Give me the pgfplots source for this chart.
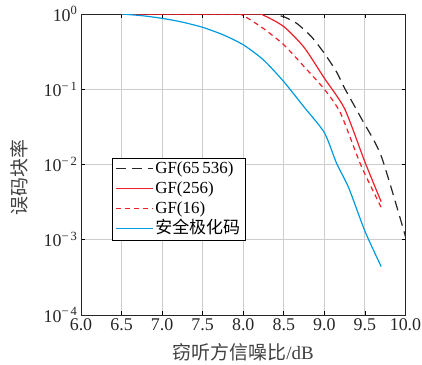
\documentclass[border=0pt]{standalone}
\usepackage{fontspec}
\setmainfont{Liberation Serif}
\newfontfamily\cjk{Noto Sans CJK SC}
\usepackage{pgfplots}
\pgfplotsset{compat=1.18}
\definecolor{myblue}{RGB}{0,155,222}
\definecolor{myred}{RGB}{240,30,40}
\definecolor{mygrid}{RGB}{205,205,205}
\begin{document}
\begin{tikzpicture}
\begin{axis}[
  scale only axis,
  width=324.5bp, height=301bp,
  xmode=linear, ymode=log,
  xmin=6, xmax=10, ymin=1e-4, ymax=1,
  xtick={6,6.5,...,10},
  ytick={1,0.1,0.01,0.001,0.0001},
  yticklabels={10\textsuperscript{0},10\textsuperscript{−\,1},10\textsuperscript{−\,2},10\textsuperscript{−\,3},10\textsuperscript{−\,4}},
  /pgf/number format/assume math mode=true,
  xticklabel style={/pgf/number format/.cd,fixed,fixed zerofill,precision=1},
  tick label style={font=\fontsize{18}{20}\selectfont, color=black!85},
  grid=major,
  major grid style={mygrid, line width=0.9pt},
  tick align=inside,
  major tick length=4pt,
  minor tick length=0pt,
  tick style={black, line width=0.7pt},
  axis line style={black!85, line width=1pt},
  xlabel={\cjk 窃听方信噪比\rmfamily/dB},
  ylabel={\cjk 误码块率},
  label style={font=\fontsize{19}{22}\selectfont, color=black!75},
  xlabel style={at={(axis description cs:0.5,-0.125)}, anchor=center},
  ylabel style={at={(axis description cs:-0.19,0.458)}, anchor=center},
  legend style={at={(0.095,0.522)}, anchor=north west, draw=black, line width=1pt, fill=white,
    font=\fontsize{17}{18}\selectfont, row sep=2bp, inner xsep=3pt, inner ysep=2pt,
    nodes={inner ysep=1bp, text height=12bp, text depth=4bp}},
  legend cell align=left,
  legend image code/.code={\draw[#1] (0cm,0.5bp) -- (1.3cm,0.5bp);},
]
\addplot[black!85, line width=1.2pt, dash pattern=on 10pt off 6pt, smooth, tension=0.4] coordinates {
(6.5,1) (8.25,1) (8.4,0.97) (8.5,0.92) (8.66,0.75) (8.84,0.50) (9.0,0.30) (9.15,0.17) (9.25,0.103) (9.45,0.042) (9.7,0.013) (10.0,0.0011)};
\addlegendentry{GF(65\,536)}
\addplot[myred, line width=1.2pt, solid, smooth, tension=0.4] coordinates {
(6.5,1) (8.1,1) (8.25,0.96) (8.5,0.68) (8.75,0.36) (9.0,0.14) (9.25,0.055) (9.5,0.0108) (9.7,0.0032)};
\addlegendentry{GF(256)}
\addplot[myred, line width=1.2pt, dash pattern=on 5pt off 4pt, smooth, tension=0.4] coordinates {
(6.5,1) (7.85,1) (8.0,0.95) (8.25,0.64) (8.5,0.39) (8.75,0.2) (9.0,0.1) (9.2,0.048) (9.45,0.0098) (9.7,0.0027)};
\addlegendentry{GF(16)}
\addplot[myblue, line width=1.2pt, solid, smooth, tension=0.4] coordinates {
(6.5,1.0) (6.75,0.95) (7.0,0.876) (7.25,0.78) (7.5,0.665) (7.75,0.53) (8.0,0.39) (8.25,0.245) (8.5,0.126) (8.75,0.058) (9.0,0.0265) (9.15,0.0104) (9.3,0.0049) (9.5,0.0013) (9.7,0.00044)};
\addlegendentry{\cjk 安全极化码}
\end{axis}
\pgfresetboundingbox
\path[use as bounding box] ([xshift=-81bp,yshift=-50bp]current axis.south west) rectangle ([xshift=16.5bp,yshift=14bp]current axis.north east);
\end{tikzpicture}
\end{document}
